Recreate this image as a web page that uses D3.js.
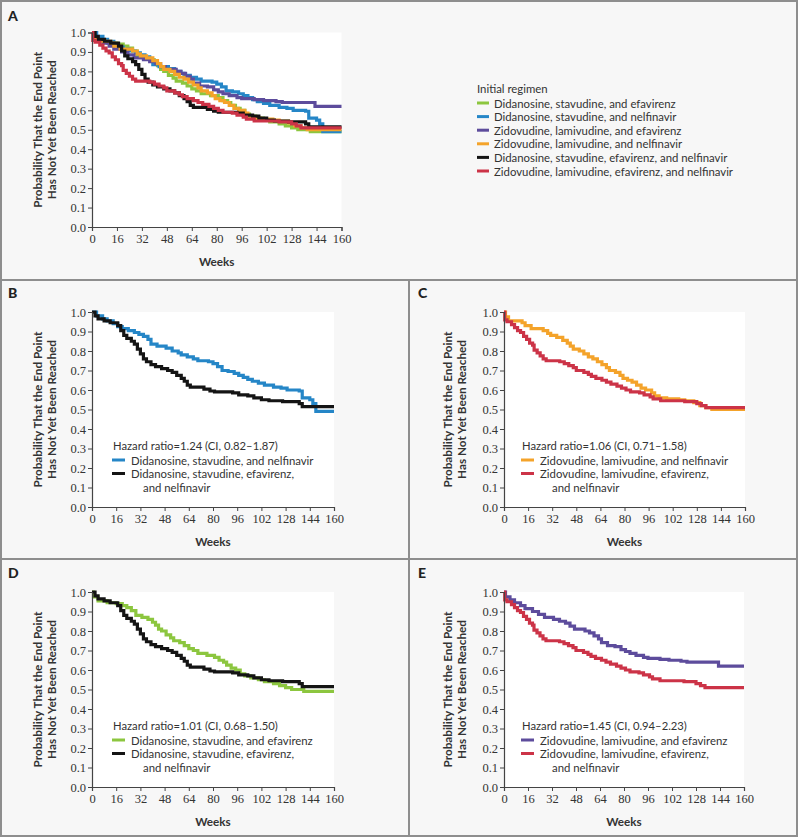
<!DOCTYPE html>
<html><head><meta charset="utf-8">
<script src="https://cdn.jsdelivr.net/npm/d3@7"></script>
<style>
html,body{margin:0;padding:0;background:#fff;}
svg{display:block;}
.tick text{font-family:"Liberation Serif",serif;font-size:12.5px;fill:#333;}
</style></head>
<body>
<svg id="chart" width="800" height="839"></svg>
<script>
// ---------- data ----------
const xTickValues = [0,16,32,48,64,80,96,112,128,144,160];
const xTickLabels = ["0","16","32","48","64","80","96","102","128","144","160"];
const yTickValues = [0,0.1,0.2,0.3,0.4,0.5,0.6,0.7,0.8,0.9,1.0];

const seriesNames = [
  "Didanosine, stavudine, and efavirenz",
  "Didanosine, stavudine, and nelfinavir",
  "Zidovudine, lamivudine, and efavirenz",
  "Zidovudine, lamivudine, and nelfinavir",
  "Didanosine, stavudine, efavirenz, and nelfinavir",
  "Zidovudine, lamivudine, efavirenz, and nelfinavir"
];
const seriesColors = ["#8cc63f","#2586c7","#5d4c9c","#f4a32a","#141414","#cc3347"];

// [week, probability] step points
const greenDSE = [[0,1.0],[1,0.975],[4,0.955],[10,0.945],[16,0.94],[20,0.93],[23,0.92],[26,0.905],[29,0.88],[33,0.87],[37,0.86],[40,0.845],[42,0.83],[44,0.81],[46,0.80],[49,0.78],[52,0.765],[54,0.75],[58,0.74],[61,0.725],[64,0.71],[67,0.70],[70,0.685],[76,0.675],[81,0.665],[84,0.65],[87,0.64],[89,0.625],[92,0.61],[95,0.60],[98,0.58],[101,0.57],[105,0.56],[110,0.55],[114,0.54],[120,0.53],[124,0.52],[128,0.51],[132,0.50],[140,0.49],[160,0.49]];
const blueDSN = [[0,1.0],[3,0.98],[7,0.965],[10,0.955],[14,0.94],[17,0.925],[20,0.915],[24,0.905],[28,0.895],[31,0.885],[34,0.875],[37,0.86],[39,0.835],[43,0.825],[49,0.815],[53,0.80],[57,0.79],[59,0.78],[63,0.77],[67,0.76],[70,0.75],[77,0.745],[80,0.735],[83,0.72],[86,0.70],[90,0.695],[94,0.685],[97,0.675],[100,0.665],[103,0.655],[106,0.645],[110,0.635],[114,0.625],[120,0.615],[125,0.61],[129,0.60],[137,0.595],[139,0.56],[144,0.55],[146,0.53],[148,0.49],[160,0.49]];
const purpleZLE = [[0,1.0],[1,0.975],[4,0.96],[7,0.945],[11,0.93],[14,0.915],[19,0.90],[23,0.885],[27,0.87],[33,0.86],[37,0.85],[41,0.84],[44,0.825],[47,0.81],[54,0.80],[57,0.79],[60,0.775],[63,0.76],[65,0.74],[69,0.725],[74,0.72],[78,0.705],[81,0.695],[84,0.685],[88,0.675],[93,0.665],[96,0.66],[104,0.655],[110,0.65],[118,0.645],[122,0.64],[143,0.62],[160,0.62]];
const orangeZLN = [[0,1.0],[1,0.975],[3,0.955],[12,0.945],[14,0.93],[18,0.915],[26,0.905],[29,0.89],[31,0.88],[35,0.87],[39,0.855],[42,0.84],[44,0.825],[46,0.81],[50,0.80],[53,0.785],[56,0.77],[59,0.76],[62,0.745],[65,0.73],[68,0.715],[70,0.70],[74,0.69],[77,0.675],[79,0.66],[82,0.65],[85,0.64],[88,0.625],[91,0.61],[94,0.60],[98,0.585],[100,0.57],[103,0.56],[108,0.555],[116,0.55],[120,0.545],[126,0.535],[130,0.52],[134,0.51],[138,0.50],[160,0.50]];
const blackDSEN = [[0,1.0],[2,0.98],[4,0.965],[8,0.955],[12,0.945],[17,0.93],[19,0.905],[21,0.88],[23,0.865],[26,0.85],[28,0.835],[30,0.81],[32,0.785],[34,0.76],[36,0.745],[39,0.73],[42,0.72],[46,0.71],[50,0.70],[53,0.69],[56,0.675],[59,0.66],[61,0.645],[63,0.625],[65,0.615],[74,0.605],[78,0.595],[81,0.59],[93,0.585],[97,0.575],[103,0.57],[107,0.56],[112,0.55],[117,0.545],[126,0.54],[137,0.53],[139,0.515],[160,0.515]];
const redZLEN = [[0,1.0],[0.5,0.96],[2,0.95],[5,0.935],[7,0.92],[9,0.905],[11,0.895],[13,0.875],[15,0.86],[17,0.84],[19,0.83],[20,0.805],[22,0.79],[24,0.775],[26,0.76],[28,0.75],[37,0.745],[40,0.735],[43,0.725],[46,0.715],[48,0.70],[53,0.69],[56,0.68],[58,0.67],[61,0.66],[65,0.65],[68,0.64],[71,0.63],[75,0.62],[78,0.61],[81,0.60],[84,0.59],[90,0.585],[93,0.575],[97,0.565],[99,0.555],[104,0.545],[120,0.54],[128,0.53],[131,0.52],[134,0.51],[160,0.51]];

const seriesData = [greenDSE, blueDSN, purpleZLE, orangeZLN, blackDSEN, redZLEN];

const hazardTexts = {
  B:"Hazard ratio=1.24 (CI, 0.82\u20131.87)",
  C:"Hazard ratio=1.06 (CI, 0.71\u20131.58)",
  D:"Hazard ratio=1.01 (CI, 0.68\u20131.50)",
  E:"Hazard ratio=1.45 (CI, 0.94\u20132.23)"
};
const legendTitle = "Initial regimen";
const yTitle1 = "Probability That the End Point";
const yTitle2 = "Has Not Yet Been Reached";
const xTitle = "Weeks";

// ---------- layout ----------
const svg = d3.select("#chart");
const frameColor = "#8e8e8e";
const panelBg = "#f7f7f7";
const sansFont = "Lato, 'Open Sans', sans-serif";

// find a font size so that a reference string reaches a target width
function fitSize(str, target, weight){
  const t = svg.append("text").text(str).attr("font-family",sansFont)
    .attr("font-weight",weight||400).attr("font-size",20);
  const w = t.node().getComputedTextLength();
  t.remove();
  return 20*target/w;
}
const legendSize = fitSize("Didanosine, stavudine, and efavirenz", 182);
const hazardSize = fitSize("Hazard ratio=1.24 (CI, 0.82\u20131.87)", 165);
const titleSize = fitSize(yTitle1, 156, 700);

svg.append("rect").attr("x",1).attr("y",1).attr("width",796).attr("height",835)
  .attr("fill",panelBg).attr("stroke",frameColor).attr("stroke-width",2);
svg.append("line").attr("x1",1).attr("x2",797).attr("y1",280).attr("y2",280).attr("stroke",frameColor).attr("stroke-width",2);
svg.append("line").attr("x1",1).attr("x2",797).attr("y1",559).attr("y2",559).attr("stroke",frameColor).attr("stroke-width",2);
svg.append("line").attr("x1",409).attr("x2",409).attr("y1",280).attr("y2",836).attr("stroke",frameColor).attr("stroke-width",2);

const panels = [
  {id:"A", lx:8,  ly:21,  x0:92,  x1:341.5, y0:32.5, y1:227, series:[0,1,2,3,4,5], titleX:37},
  {id:"B", lx:8,  ly:298, x0:92,  x1:334,   y0:312,  y1:507, series:[1,4], titleX:37, legX:112, legY:445},
  {id:"C", lx:418,ly:298, x0:504, x1:745,   y0:312,  y1:507, series:[3,5], titleX:447, legX:521, legY:445},
  {id:"D", lx:8,  ly:578, x0:92,  x1:334,   y0:592,  y1:787, series:[0,4], titleX:37, legX:112, legY:725},
  {id:"E", lx:418,ly:578, x0:504, x1:744,   y0:592,  y1:787, series:[2,5], titleX:447, legX:521, legY:725}
];

panels.forEach(p => {
  const g = svg.append("g");
  const x = d3.scaleLinear().domain([0,160]).range([p.x0,p.x1]);
  const y = d3.scaleLinear().domain([0,1]).range([p.y1,p.y0]);

  g.append("text").text(p.id).attr("x",p.lx).attr("y",p.ly)
    .attr("font-family",sansFont).attr("font-weight",900).attr("font-size",14).attr("fill","#222");

  g.append("rect").attr("x",p.x0).attr("y",p.y0).attr("width",p.x1-p.x0).attr("height",p.y1-p.y0).attr("fill","#fff");

  const line = d3.line().x(d=>x(d[0])).y(d=>y(d[1])).curve(d3.curveStepAfter);
  p.series.forEach(i => {
    g.append("path").datum(seriesData[i]).attr("d",line)
      .attr("fill","none").attr("stroke",seriesColors[i]).attr("stroke-width",3.2)
      .attr("stroke-linejoin","miter");
  });

  const ax = g.append("g").attr("transform",`translate(0,${p.y1})`)
    .call(d3.axisBottom(x).tickValues(xTickValues).tickSize(4).tickPadding(3)
      .tickFormat((d,i)=>xTickLabels[i]));
  const ay = g.append("g").attr("transform",`translate(${p.x0},0)`)
    .call(d3.axisLeft(y).tickValues(yTickValues).tickSize(4).tickPadding(2)
      .tickFormat(d3.format(".1f")));
  [ax,ay].forEach(a=>{
    a.select(".domain").attr("stroke","#444").attr("stroke-width",1.2);
    a.selectAll(".tick line").attr("stroke","#444");
  });

  const cy = (p.y0+p.y1)/2;
  [[yTitle1,p.titleX],[yTitle2,p.titleX+13.5]].forEach(([t,tx])=>{
    g.append("text").text(t).attr("transform",`translate(${tx},${cy}) rotate(-90)`)
      .attr("text-anchor","middle").attr("dominant-baseline","central")
      .attr("font-family",sansFont).attr("font-weight",700).attr("font-size",titleSize).attr("fill","#333");
  });
  g.append("text").text(xTitle).attr("x",(p.x0+p.x1)/2).attr("y",p.y1+34)
    .attr("text-anchor","middle").attr("dominant-baseline","central")
    .attr("font-family",sansFont).attr("font-weight",700).attr("font-size",titleSize).attr("fill","#333");

  if (p.id !== "A") {
    const lg = g.append("g").attr("font-family",sansFont).attr("fill","#333");
    lg.append("text").text(hazardTexts[p.id]).attr("x",p.legX+1).attr("y",p.legY)
      .attr("font-size",hazardSize).attr("dominant-baseline","central");
    p.series.forEach((si,k)=>{
      const yy = p.legY + 15 + k*13.5;
      lg.append("line").attr("x1",p.legX).attr("x2",p.legX+13).attr("y1",yy).attr("y2",yy)
        .attr("stroke",seriesColors[si]).attr("stroke-width",3);
      const name = seriesNames[si];
      if (si >= 4) {
        const parts = name.split(", and ");
        lg.append("text").text(parts[0]+",").attr("x",p.legX+19).attr("y",yy)
          .attr("font-size",legendSize).attr("dominant-baseline","central");
        lg.append("text").text("and "+parts[1]).attr("x",p.legX+31).attr("y",yy+14)
          .attr("font-size",legendSize).attr("dominant-baseline","central");
      } else {
        lg.append("text").text(name).attr("x",p.legX+19).attr("y",yy)
          .attr("font-size",legendSize).attr("dominant-baseline","central");
      }
    });
  }
});

// legend for panel A
const legA = svg.append("g").attr("font-family",sansFont).attr("font-size",legendSize).attr("fill","#333");
legA.append("text").text(legendTitle).attr("x",477).attr("y",88).attr("dominant-baseline","central");
seriesNames.forEach((n,i)=>{
  const yy = 103 + i*13.6;
  legA.append("line").attr("x1",477).attr("x2",489).attr("y1",yy).attr("y2",yy)
    .attr("stroke",seriesColors[i]).attr("stroke-width",3);
  legA.append("text").text(n).attr("x",494).attr("y",yy).attr("dominant-baseline","central");
});
</script>
</body></html>
